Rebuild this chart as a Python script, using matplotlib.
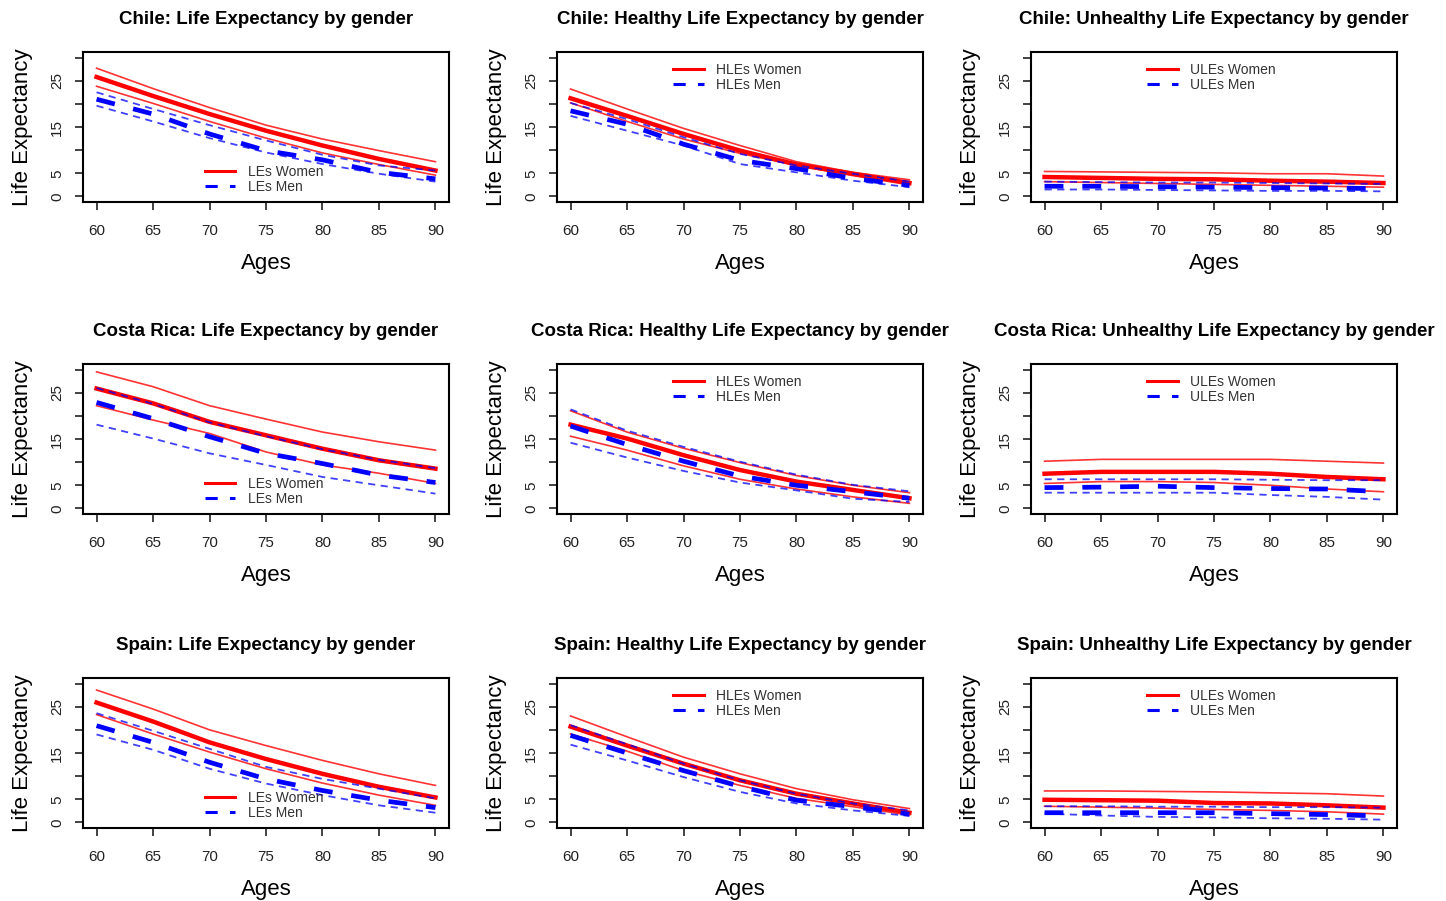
import matplotlib
matplotlib.use("Agg")
import matplotlib.pyplot as plt

plt.rcParams['font.family'] = ['Liberation Sans', 'DejaVu Sans']

ages = [60, 65, 70, 75, 80, 85, 90]

countries = ["Chile", "Costa Rica", "Spain"]
measures = ["Life Expectancy", "Healthy Life Expectancy", "Unhealthy Life Expectancy"]
prefixes = ["LEs", "HLEs", "ULEs"]

# Chile
cl_le_w = [25.8, 21.7, 17.8, 14.2, 11.0, 8.1, 5.6]
cl_le_w_lo = [23.8, 20.1, 16.2, 12.6, 9.4, 6.9, 4.6]
cl_le_w_hi = [27.7, 23.3, 19.2, 15.4, 12.4, 9.9, 7.5]
cl_le_m = [21.0, 17.8, 13.5, 9.9, 7.9, 5.2, 3.8]
cl_le_m_lo = [19.6, 16.2, 12.6, 9.5, 7.0, 4.9, 3.2]
cl_le_m_hi = [22.5, 18.9, 15.4, 12.1, 9.0, 6.7, 5.6]

cl_hle_w = [21.2, 17.4, 13.5, 9.9, 6.9, 4.9, 2.9]
cl_hle_w_lo = [20.2, 16.2, 12.4, 9.3, 6.7, 4.5, 2.5]
cl_hle_w_hi = [23.2, 18.9, 14.7, 11.0, 7.5, 5.2, 3.6]
cl_hle_m = [18.5, 15.6, 11.3, 7.8, 6.0, 3.9, 2.4]
cl_hle_m_lo = [17.4, 14.2, 11.0, 7.0, 5.2, 3.4, 2.0]
cl_hle_m_hi = [20.2, 16.7, 12.8, 9.2, 6.7, 4.9, 3.2]

cl_ule_w = [4.2, 4.0, 3.8, 3.7, 3.4, 3.2, 2.9]
cl_ule_w_lo = [3.2, 3.0, 2.8, 2.6, 2.4, 2.2, 2.0]
cl_ule_w_hi = [5.4, 5.3, 5.2, 5.1, 4.9, 4.9, 4.4]
cl_ule_m = [2.2, 2.2, 2.1, 2.0, 1.9, 1.8, 1.7]
cl_ule_m_lo = [1.5, 1.5, 1.4, 1.3, 1.2, 1.2, 1.1]
cl_ule_m_hi = [3.2, 3.1, 3.0, 3.0, 2.9, 2.8, 2.7]

# Costa Rica
cr_le_w = [25.9, 22.7, 18.7, 15.8, 12.9, 10.4, 8.6]
cr_le_w_lo = [22.2, 19.1, 16.2, 12.2, 9.4, 7.6, 5.4]
cr_le_w_hi = [29.5, 26.3, 22.2, 19.3, 16.5, 14.4, 12.6]
cr_le_m = [22.9, 19.4, 15.5, 11.9, 9.7, 7.2, 5.6]
cr_le_m_lo = [18.1, 15.1, 11.9, 9.4, 6.8, 5.0, 3.2]
cr_le_m_hi = [26.0, 22.6, 18.6, 15.6, 12.8, 10.5, 8.7]

cr_hle_w = [18.1, 15.1, 11.5, 8.3, 5.8, 4.0, 2.2]
cr_hle_w_lo = [15.6, 12.6, 9.2, 6.3, 4.2, 2.5, 1.1]
cr_hle_w_hi = [21.1, 16.5, 13.0, 9.9, 7.1, 5.0, 3.4]
cr_hle_m = [17.8, 13.8, 10.2, 7.0, 5.0, 3.6, 2.2]
cr_hle_m_lo = [14.2, 11.0, 8.1, 5.6, 3.9, 2.1, 1.4]
cr_hle_m_hi = [21.4, 16.8, 13.3, 10.1, 7.3, 5.1, 3.7]

cr_ule_w = [7.5, 7.9, 7.9, 7.9, 7.5, 6.8, 6.3]
cr_ule_w_lo = [5.4, 5.8, 5.8, 5.6, 5.0, 4.2, 3.6]
cr_ule_w_hi = [10.2, 10.6, 10.6, 10.6, 10.6, 10.2, 9.8]
cr_ule_m = [4.5, 4.6, 4.8, 4.5, 4.3, 4.2, 3.6]
cr_ule_m_lo = [3.4, 3.4, 3.4, 3.4, 2.9, 2.5, 1.9]
cr_ule_m_hi = [6.3, 6.3, 6.3, 6.3, 6.2, 6.1, 6.1]

# Spain
es_le_w = [25.9, 21.8, 17.3, 13.7, 10.5, 7.7, 5.4]
es_le_w_lo = [23.3, 19.1, 15.2, 11.6, 8.5, 5.9, 3.7]
es_le_w_hi = [28.6, 24.5, 20.0, 16.6, 13.4, 10.5, 8.0]
es_le_m = [20.9, 17.3, 13.0, 9.4, 6.9, 4.8, 3.2]
es_le_m_lo = [19.0, 15.7, 11.6, 8.4, 5.9, 3.7, 2.1]
es_le_m_hi = [23.6, 19.8, 15.9, 12.0, 9.4, 7.3, 5.2]

es_hle_w = [20.7, 16.6, 12.7, 9.1, 6.2, 4.1, 2.1]
es_hle_w_lo = [19.1, 15.4, 11.2, 8.0, 5.2, 3.4, 1.6]
es_hle_w_hi = [23.0, 18.5, 14.1, 10.5, 7.3, 4.9, 3.0]
es_hle_m = [18.8, 15.0, 11.2, 7.8, 4.8, 3.4, 1.8]
es_hle_m_lo = [16.8, 13.4, 9.8, 6.6, 4.1, 2.6, 1.4]
es_hle_m_hi = [21.0, 16.9, 12.7, 9.1, 6.2, 4.1, 2.6]

es_ule_w = [4.9, 4.8, 4.7, 4.2, 4.1, 3.7, 3.2]
es_ule_w_lo = [3.5, 3.3, 3.1, 2.8, 2.6, 2.3, 1.8]
es_ule_w_hi = [6.8, 6.8, 6.7, 6.6, 6.4, 6.2, 5.7]
es_ule_m = [2.1, 2.1, 2.1, 2.1, 1.9, 1.7, 1.4]
es_ule_m_lo = [1.9, 1.5, 1.2, 1.1, 0.9, 0.8, 0.6]
es_ule_m_hi = [3.5, 3.5, 3.4, 3.4, 3.3, 3.3, 3.2]

panels = [
    [(cl_le_w, cl_le_w_lo, cl_le_w_hi, cl_le_m, cl_le_m_lo, cl_le_m_hi),
     (cl_hle_w, cl_hle_w_lo, cl_hle_w_hi, cl_hle_m, cl_hle_m_lo, cl_hle_m_hi),
     (cl_ule_w, cl_ule_w_lo, cl_ule_w_hi, cl_ule_m, cl_ule_m_lo, cl_ule_m_hi)],
    [(cr_le_w, cr_le_w_lo, cr_le_w_hi, cr_le_m, cr_le_m_lo, cr_le_m_hi),
     (cr_hle_w, cr_hle_w_lo, cr_hle_w_hi, cr_hle_m, cr_hle_m_lo, cr_hle_m_hi),
     (cr_ule_w, cr_ule_w_lo, cr_ule_w_hi, cr_ule_m, cr_ule_m_lo, cr_ule_m_hi)],
    [(es_le_w, es_le_w_lo, es_le_w_hi, es_le_m, es_le_m_lo, es_le_m_hi),
     (es_hle_w, es_hle_w_lo, es_hle_w_hi, es_hle_m, es_hle_m_lo, es_hle_m_hi),
     (es_ule_w, es_ule_w_lo, es_ule_w_hi, es_ule_m, es_ule_m_lo, es_ule_m_hi)],
]

W, H = 1446, 901
fig = plt.figure(figsize=(W / 100, H / 100), dpi=100)

col_left = [83, 557, 1031]
row_top = [52, 364, 678]
box_w, box_h = 366, 150

RED = "#ff0000"
BLUE = "#0000ff"

for r in range(3):
    for c in range(3):
        ax = fig.add_axes([col_left[c] / W, 1 - (row_top[r] + box_h) / H, box_w / W, box_h / H])
        w, w_lo, w_hi, m, m_lo, m_hi = panels[r][c]

        ax.plot(ages, w_lo, color=RED, lw=1.2, alpha=0.8)
        ax.plot(ages, w_hi, color=RED, lw=1.2, alpha=0.8)
        ax.plot(ages, w, color=RED, lw=3.2, label=prefixes[c] + " Women")
        ax.plot(ages, m_lo, color=BLUE, lw=1.3, alpha=0.75, linestyle=(0, (4, 3)))
        ax.plot(ages, m_hi, color=BLUE, lw=1.3, alpha=0.75, linestyle=(0, (4, 3)))
        ax.plot(ages, m, color=BLUE, lw=3.4, linestyle=(0, (4, 4)), label=prefixes[c] + " Men")

        ax.set_xlim(58.8, 91.2)
        ax.set_ylim(-1.2, 31.2)
        ax.set_xticks(ages)
        ax.set_xticklabels([str(a) for a in ages])
        ax.set_yticks([0, 5, 10, 15, 20, 25, 30])
        ax.set_yticklabels(["0", "5", "", "15", "", "25", ""], rotation=90, va="center")
        ax.tick_params(direction="out", length=5.5, width=1.2, labelsize=11, colors="#222222")
        ax.tick_params(axis="x", pad=10)
        ax.tick_params(axis="y", pad=8)
        for s in ax.spines.values():
            s.set_linewidth(1.5)

        ax.set_title(countries[r] + ": " + measures[c] + " by gender",
                     fontsize=13.5, fontweight="bold", pad=20)
        ax.set_xlabel("Ages", fontsize=16)
        ax.xaxis.set_label_coords(0.5, -0.34)
        ax.set_ylabel("Life Expectancy", fontsize=16)
        ax.yaxis.set_label_coords(-0.137, 0.5)

        handles, labels = ax.get_legend_handles_labels()
        if c == 0:
            anchor = (0.333, 0.25)
        else:
            anchor = (0.318, 0.93)
        leg = ax.legend(handles, labels, loc="upper left", bbox_to_anchor=anchor,
                        frameon=False, fontsize=10, borderpad=0, borderaxespad=0,
                        handlelength=2.2, handletextpad=0.9, labelspacing=0.08)
        for line in leg.get_lines():
            line.set_linewidth(2.2)
            line.set_alpha(1)
        for t in leg.get_texts():
            t.set_color("#333333")

fig.savefig("out.png", dpi=100)
